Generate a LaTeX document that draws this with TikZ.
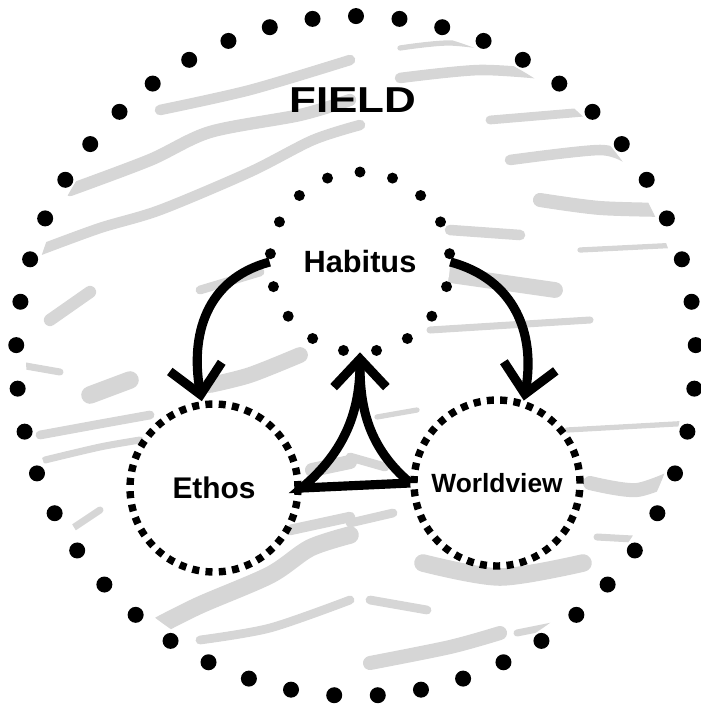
\documentclass[tikz,border=0pt]{standalone}
\usepackage{fontspec}
\setmainfont{Liberation Sans}
\usetikzlibrary{arrows.meta}

\tikzset{
  ring/.style={circle, inner sep=0pt, fill=white},
  dashring/.style={ring, draw, line width=4.2pt, dash pattern=on 4pt off 3.6pt},
  streak/.style={gray!32, line cap=round, line join=round},
  flow/.style={line width=5.2pt, -{Straight Barb[length=16pt,width=30pt]}},
}

\begin{document}
\begin{tikzpicture}[x=0.02cm, y=-0.02cm]
    \useasboundingbox (0,0) rectangle (700,706);
    \node[circle, minimum size=13.6cm, inner sep=0pt] (field) at (356,356) {};
    % texture of the field
    \begin{scope}
    \clip (field.center) circle (6.6cm);
    \draw[streak, line width=6pt] plot[smooth] coordinates {(40,250) (100,228) (160,210) (250,172) (313,140) (360,125)};
    \draw[streak, line width=7pt] plot[smooth] coordinates {(70,190) (150,160) (210,132) (300,115) (350,100)};
    \draw[streak, line width=6pt] plot[smooth] coordinates {(160,110) (250,90) (350,60)};
    \draw[streak, line width=3pt] plot[smooth] coordinates {(400,48) (450,43) (510,50)};
    \draw[streak, line width=6pt] plot[smooth] coordinates {(400,78) (480,70) (555,75)};
    \draw[streak, line width=5pt] plot[smooth] coordinates {(490,120) (585,112)};
    \draw[streak, line width=6pt] plot[smooth] coordinates {(510,160) (600,150) (630,160)};
    \draw[streak, line width=8pt] plot[smooth] coordinates {(540,200) (600,208) (670,210)};
    \draw[streak, line width=6pt] plot[smooth] coordinates {(450,230) (520,235)};
    \draw[streak, line width=3pt] plot[smooth] coordinates {(580,250) (680,245)};
    \draw[streak, line width=9pt] plot[smooth] coordinates {(450,275) (555,290)};
    \draw[streak, line width=4pt] plot[smooth] coordinates {(430,330) (590,320)};
    \draw[streak, line width=5pt] plot[smooth] coordinates {(200,290) (260,272)};
    \draw[streak, line width=7pt] plot[smooth] coordinates {(50,320) (90,292)};
    \draw[streak, line width=4pt] plot[smooth] coordinates {(20,365) (60,372)};
    \draw[streak, line width=10pt] plot[smooth] coordinates {(90,395) (130,380)};
    \draw[streak, line width=5pt] plot[smooth] coordinates {(40,435) (100,424) (150,415)};
    \draw[streak, line width=9pt] plot[smooth] coordinates {(210,385) (250,375) (300,355)};
    \draw[streak, line width=4pt] plot[smooth] coordinates {(45,460) (100,447) (140,440)};
    \draw[streak, line width=4pt] plot[smooth] coordinates {(70,530) (100,510)};
    \draw[streak, line width=10pt] plot[smooth] coordinates {(160,625) (200,605) (270,575) (310,548) (350,535)};
    \draw[streak, line width=5pt] plot[smooth] coordinates {(200,640) (270,628) (350,600)};
    \draw[streak, line width=6pt] plot[smooth] coordinates {(290,530) (350,517)};
    \draw[streak, line width=8pt] plot[smooth] coordinates {(590,483) (637,490) (683,473)};
    \draw[streak, line width=3pt] plot[smooth] coordinates {(567,430) (693,423)};
    \draw[streak, line width=5pt] plot[smooth] coordinates {(350,457) (385,467)};
    \draw[streak, line width=3pt] plot[smooth] coordinates {(377,417) (417,410)};
    \draw[streak, line width=5pt] plot[smooth] coordinates {(350,523) (393,513)};
    \draw[streak, line width=10pt] plot[smooth] coordinates {(423,563) (500,577) (583,563)};
    \draw[streak, line width=5pt] plot[smooth] coordinates {(370,600) (427,610)};
    \draw[streak, line width=8pt] plot[smooth] coordinates {(370,663) (450,647) (500,633)};
    \draw[streak, line width=4pt] plot[smooth] coordinates {(517,633) (567,623)};
    \draw[streak, line width=4pt] plot[smooth] coordinates {(597,537) (650,540)};
    \draw[streak, line width=8pt] plot[smooth] coordinates {(312,470) (350,462)};
    \end{scope}
    % outer ring of dots
    \foreach \a in {0,...,48}
      \fill ([shift={(field.center)}]{90+7.3469*\a}:6.8cm) circle (0.16cm);
    \node[font=\bfseries\fontsize{20.5}{24}\selectfont] (title) at (353,100) {\scalebox{1.22}[1]{FIELD}};
    % the three circles
    \node[ring, minimum size=3.6cm, font=\bfseries\fontsize{17.5}{20}\selectfont] (hab) at (360,262) {Habitus};
    \foreach \a in {0,...,16}
      \fill ([shift={(hab.center)}]{90+21.1765*\a}:1.8cm) circle (0.11cm);
    \node[dashring, minimum size=3.36cm, font=\bfseries\fontsize{17}{20}\selectfont] (eth) at (214,488) {Ethos};
    \node[dashring, minimum size=3.32cm, font=\bfseries\fontsize{15}{18}\selectfont] (wv) at (497,483) {Worldview};
    % arrows
    \draw[flow] (hab.180) to[out=195, in=100, looseness=1.1] (eth.98);
    \draw[flow] (hab.0) to[out=-15, in=80, looseness=1.1] (wv.72);
    \draw[flow] (wv.west) -- (eth.east) to[out=40, in=-90] (hab.south);
    \draw[line width=5.2pt, shorten >=8pt] (wv.west) to[out=140, in=-90] (hab.south);
\end{tikzpicture}
\end{document}
